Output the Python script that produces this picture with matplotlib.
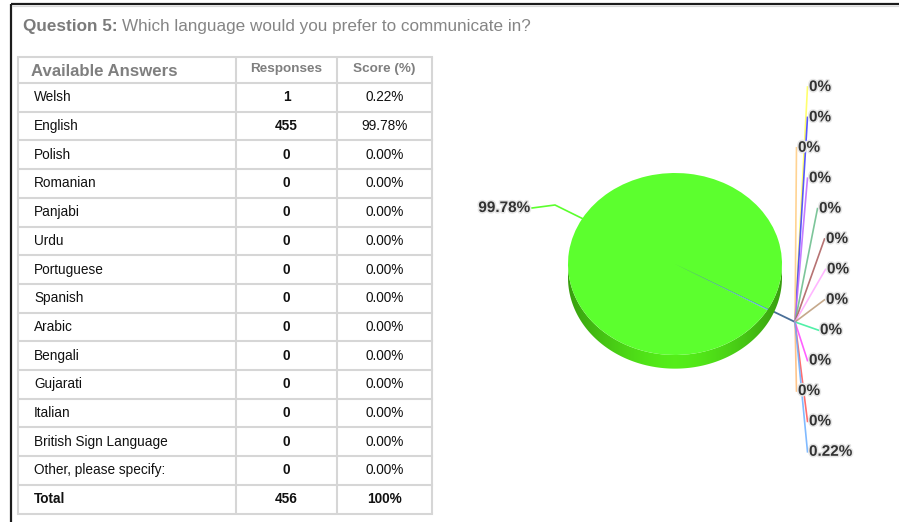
import numpy as np
import matplotlib
matplotlib.use("Agg")
import matplotlib.pyplot as plt
from matplotlib.patches import Polygon
import matplotlib.patheffects as pe

# ---- survey data -------------------------------------------------------
question_no = 5
question = "Which language would you prefer to communicate in?"
answers = ["Welsh", "English", "Polish", "Romanian", "Panjabi", "Urdu",
           "Portuguese", "Spanish", "Arabic", "Bengali", "Gujarati",
           "Italian", "British Sign Language", "Other, please specify:"]
responses = [1, 455, 0, 0, 0, 0, 0, 0, 0, 0, 0, 0, 0, 0]
scores = [0.22, 99.78, 0, 0, 0, 0, 0, 0, 0, 0, 0, 0, 0, 0]
total_responses = 456
total_score = 100
slice_colors = ["#6aaeff", "#5cff2e", "#ffff55", "#3a3aff", "#ffcc80",
                "#bb66ff", "#66bb88", "#aa5a5a", "#ffaaff", "#bb9977",
                "#33ee99", "#ff44ff", "#ffbb77", "#ff5555"]

# ---- figure & pixel overlay -------------------------------------------
W, H = 899, 522
fig = plt.figure(figsize=(W / 100, H / 100), dpi=100)
fig.patch.set_facecolor("white")
ov = fig.add_axes([0, 0, 1, 1])
ov.set_xlim(0, W)
ov.set_ylim(H, 0)
ov.axis("off")

FONT = "Liberation Sans"

# outer panel frame
ov.plot([10.5, 10.5], [3.5, H], color="#1c1c1c", lw=1.6, solid_capstyle="butt")
ov.plot([10.5, W], [3.5, 3.5], color="#1c1c1c", lw=1.6, solid_capstyle="butt")
ov.plot([12, W], [6, 6], color="#d8d8d8", lw=0.8)

# title
t1 = ov.text(23, 26, f"Question {question_no}:", fontsize=12.3, fontweight="bold",
             color="#7b7b7b", family=FONT, va="center", ha="left")
fig.canvas.draw()
bb = t1.get_window_extent()
x_after = bb.x1
ov.text(x_after + 4, 26, question, fontsize=12.3, color="#858585",
        family=FONT, va="center", ha="left")

# ---- table -------------------------------------------------------------
col_x = [18, 236, 337, 432]
top, head_bot, row_h = 57, 83, 28.7
n_rows = len(answers) + 1
bottom = head_bot + row_h * n_rows
grid_c = "#d6d6d6"
for x in col_x:
    ov.plot([x, x], [top, bottom], color=grid_c, lw=1.5, solid_capstyle="butt")
ov.plot([col_x[0], col_x[-1]], [top, top], color=grid_c, lw=1.5)
for i in range(n_rows + 1):
    y = head_bot + i * row_h
    ov.plot([col_x[0], col_x[-1]], [y, y], color=grid_c, lw=1.5)

hy = (top + head_bot) / 2
ov.text(31, hy + 1, "Available Answers", fontsize=12.1, fontweight="bold",
        color="#7f7f7f", family=FONT, va="center", ha="left")
ov.text((col_x[1] + col_x[2]) / 2, hy - 1, "Responses", fontsize=9.7, fontweight="bold",
        color="#7f7f7f", family=FONT, va="center", ha="center")
ov.text((col_x[2] + col_x[3]) / 2, hy - 1, "Score (%)", fontsize=9.7, fontweight="bold",
        color="#7f7f7f", family=FONT, va="center", ha="center")

rows = list(zip(answers, [str(r) for r in responses], [f"{s:.2f}%" for s in scores]))
rows.append(("Total", str(total_responses), f"{total_score}%"))
for i, (name, resp, sc) in enumerate(rows):
    y = head_bot + (i + 0.5) * row_h
    bold = "bold" if name == "Total" else "normal"
    ov.text(34, y, name, fontsize=9.8, color="#111111", family=FONT,
            va="center", ha="left", fontweight=bold)
    ov.text((col_x[1] + col_x[2]) / 2, y, resp, fontsize=9.8, color="#111111",
            family=FONT, va="center", ha="center", fontweight="bold")
    ov.text((col_x[2] + col_x[3]) / 2, y, sc, fontsize=9.8, color="#111111",
            family=FONT, va="center", ha="center", fontweight=bold)

# ---- 3-D style pie -----------------------------------------------------
cx, cy, ra, rb = 675, 264, 107, 91      # centre and radii in pixels
xr, ylo, yhi = 1.6, -2.0, 1.3
pl = (cx - xr * ra) / W
pw = 2 * xr * ra / W
pb = (H - (cy - ylo * rb)) / H
ph = (yhi - ylo) * rb / H
pax = fig.add_axes([pl, pb, pw, ph], zorder=2)
pax.patch.set_alpha(0)

depth = 0.15
# side wall with a soft horizontal gradient
phi = np.linspace(np.pi, 2 * np.pi, 200)
side = np.vstack([np.column_stack([np.cos(phi), np.sin(phi) - depth]),
                  np.column_stack([np.cos(phi[::-1]), np.sin(phi[::-1])])])
side_patch = Polygon(side, closed=True, facecolor="none", edgecolor="none")
pax.add_patch(side_patch)
gx = np.linspace(-1, 1, 256)
shade = np.clip(1 - np.abs(gx) ** 1.6, 0, 1)
dark = np.array([0.22, 0.62, 0.06])
light = np.array([0.33, 0.93, 0.10])
grad = dark[None, :] + (light - dark)[None, :] * shade[:, None]
img = pax.imshow(grad[None, :, :], extent=[-1, 1, -1 - depth, 0], aspect="auto",
                 zorder=1, interpolation="bilinear")
img.set_clip_path(side_patch)

wedges, _ = pax.pie(scores, colors=slice_colors, startangle=-29.6,
                    counterclock=False, radius=1, center=(0, 0),
                    wedgeprops=dict(linewidth=0))
for w in wedges:
    w.set_zorder(2)
pax.set_aspect("auto")
pax.set_xlim(-xr, xr)
pax.set_ylim(ylo, yhi)
pax.axis("off")


def to_px(x, y):
    d = pax.transData.transform((x, y))
    return ov.transData.inverted().transform(d)


# small-slice hub, just outside the rim along the slice boundary
small_ang = np.deg2rad(wedges[0].theta2)
hub = to_px(1.29 * np.cos(small_ang), 1.29 * np.sin(small_ang))
centre = to_px(0, 0)
ov.plot([centre[0], hub[0]], [centre[1], hub[1]], color="#4a6f98", lw=1.3, zorder=3)

lab_style = dict(fontsize=11, fontweight="bold", color="#333333", family=FONT,
                 va="center", ha="left", zorder=5,
                 path_effects=[pe.withStroke(linewidth=2.2, foreground="#e6e6e6")])

# label column for the small slices (top to bottom), Welsh last
label_order = list(range(2, len(answers))) + [0]
label_x = [809, 809, 798, 809, 819, 826, 827, 826, 820, 809, 798, 809, 809]
for k, idx in enumerate(label_order):
    ly = 87 + 30.4 * k
    lx = label_x[k]
    ov.plot([hub[0], lx - 1.5], [hub[1], ly], color=slice_colors[idx], lw=1.2,
            alpha=0.85, zorder=4)
    txt = "0%" if scores[idx] == 0 else f"{scores[idx]:.2f}%"
    ov.text(lx, ly, txt, **lab_style)

# English label on the left
eng = wedges[1]
mid = np.deg2rad((eng.theta1 + eng.theta2) / 2)
rim = to_px(np.cos(mid), np.sin(mid))
elbow = (555, 205)
ov.plot([532, elbow[0], rim[0]], [208, elbow[1], rim[1]], color=slice_colors[1],
        lw=1.2, zorder=4)
ov.text(530, 208, f"{scores[1]:.2f}%", **{**lab_style, "ha": "right"})

fig.savefig("out.png", dpi=100, facecolor="white")
